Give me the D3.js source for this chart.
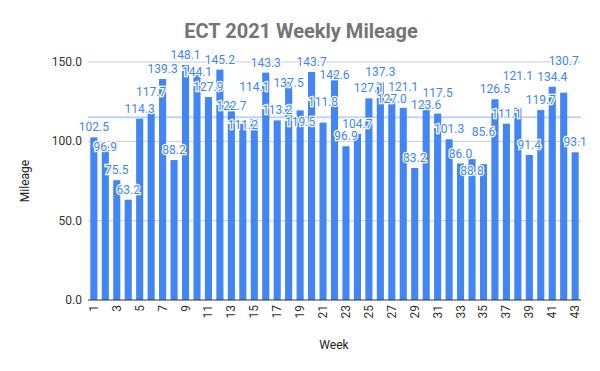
<!DOCTYPE html>
<html>
<head>
<meta charset="utf-8">
<script src="https://cdn.jsdelivr.net/npm/d3@7"></script>
<style>
  body { margin: 0; background: #fff; }
  text { font-family: Roboto, Arial, sans-serif; }
</style>
</head>
<body>
<svg id="chart"></svg>
<script>
// weekly mileage
const weeks = d3.range(1, 44);
const mileage = [
  102.5, 96.9, 75.5, 63.2, 114.3, 117.7, 139.3, 88.2, 148.1, 144.1,
  127.9, 145.2, 122.7, 111.2, 114.1, 143.3, 113.2, 137.5, 119.5, 143.7,
  111.8, 142.6, 96.9, 104.7, 127.1, 137.3, 127.0, 121.1, 83.2, 123.6,
  117.5, 101.3, 86.0, 88.8, 85.6, 126.5, 111.1, 121.1, 91.4, 119.7,
  134.4, 130.7, 93.1
];
const yTicks = [0, 50, 100, 150];

const data = weeks.map((w, i) => ({ week: w, value: mileage[i] }));
const avg = d3.mean(mileage);

const width = 600, height = 371;
const svg = d3.select("#chart")
  .attr("width", width)
  .attr("height", height);

const x = d3.scaleBand()
  .domain(weeks)
  .range([88, 581])
  .paddingInner(0.38)
  .paddingOuter(0.2);

const y = d3.scaleLinear()
  .domain([0, 150])
  .range([300, 62]);

// gridlines
svg.append("g")
  .selectAll("line")
  .data(yTicks.slice(1))
  .enter()
  .append("line")
  .attr("x1", 88)
  .attr("x2", 581)
  .attr("y1", d => y(d))
  .attr("y2", d => y(d))
  .attr("stroke", "#cccccc")
  .attr("stroke-width", 1);

// y tick labels
svg.append("g")
  .selectAll("text")
  .data(yTicks)
  .enter()
  .append("text")
  .attr("x", 82)
  .attr("y", d => y(d) + 4)
  .attr("text-anchor", "end")
  .style("font-size", "12px")
  .style("fill", "#333")
  .text(d3.format(".1f"));

// bars
svg.append("g")
  .selectAll("rect")
  .data(data)
  .enter()
  .append("rect")
  .attr("x", d => x(d.week))
  .attr("width", x.bandwidth())
  .attr("y", d => y(d.value))
  .attr("height", d => y(0) - y(d.value))
  .attr("fill", "#4285f4");

// average line
svg.append("line")
  .attr("x1", 88)
  .attr("x2", 581)
  .attr("y1", y(avg))
  .attr("y2", y(avg))
  .attr("stroke", "#4285f4")
  .attr("stroke-opacity", 0.35)
  .attr("stroke-width", 2);

// baseline
svg.append("line")
  .attr("x1", 88)
  .attr("x2", 581)
  .attr("y1", y(0))
  .attr("y2", y(0))
  .attr("stroke", "#333")
  .attr("stroke-width", 1);

// x tick labels, every other week
svg.append("g")
  .selectAll("text")
  .data(weeks.filter(w => w % 2 === 1))
  .enter()
  .append("text")
  .attr("transform", d => `translate(${x(d) + x.bandwidth() / 2 + 4},305) rotate(-90)`)
  .attr("text-anchor", "end")
  .style("font-size", "12px")
  .style("fill", "#333")
  .text(d => d);

// data labels with white halo
const labels = svg.append("g")
  .selectAll("text")
  .data(data)
  .enter()
  .append("text")
  .attr("x", d => x(d.week) + x.bandwidth() / 2)
  .attr("y", d => y(d.value) - 6)
  .attr("text-anchor", "middle")
  .style("font-size", "12px")
  .style("fill", "#4285f4")
  .style("stroke", "#fff")
  .style("stroke-width", 2.5)
  .style("paint-order", "stroke")
  .text(d => d3.format(".1f")(d.value));

// crude collision avoidance: nudge a label up or down until it clears the ones already placed
const placed = [];
const shifts = [0, -11, 11, -22, 22, -33, 33, -44];
labels.each(function(d) {
  const w = this.getComputedTextLength();
  const cx = x(d.week) + x.bandwidth() / 2;
  const base = y(d.value) - 6;
  let best = null, bestHits = Infinity;
  for (const s of shifts) {
    const by = base + s;
    const box = { x0: cx - w / 2, x1: cx + w / 2, y0: by - 10, y1: by + 1 };
    if (box.y0 < 42 || box.y1 > 296) continue;
    const hits = placed.filter(p => p.x0 < box.x1 && p.x1 > box.x0 && p.y0 < box.y1 && p.y1 > box.y0).length;
    if (hits < bestHits) { best = box; bestHits = hits; }
    if (hits === 0) break;
  }
  placed.push(best);
  d3.select(this).attr("y", best.y1 - 1);
});

// title
svg.append("text")
  .attr("x", 301)
  .attr("y", 38)
  .attr("text-anchor", "middle")
  .style("font-size", "20px")
  .style("font-weight", "bold")
  .style("fill", "#757575")
  .text("ECT 2021 Weekly Mileage");

// axis titles
svg.append("text")
  .attr("x", 334)
  .attr("y", 349)
  .attr("text-anchor", "middle")
  .style("font-size", "12px")
  .style("fill", "#222")
  .text("Week");

svg.append("text")
  .attr("transform", "translate(29,181) rotate(-90)")
  .attr("text-anchor", "middle")
  .style("font-size", "12px")
  .style("fill", "#222")
  .text("Mileage");
</script>
</body>
</html>
